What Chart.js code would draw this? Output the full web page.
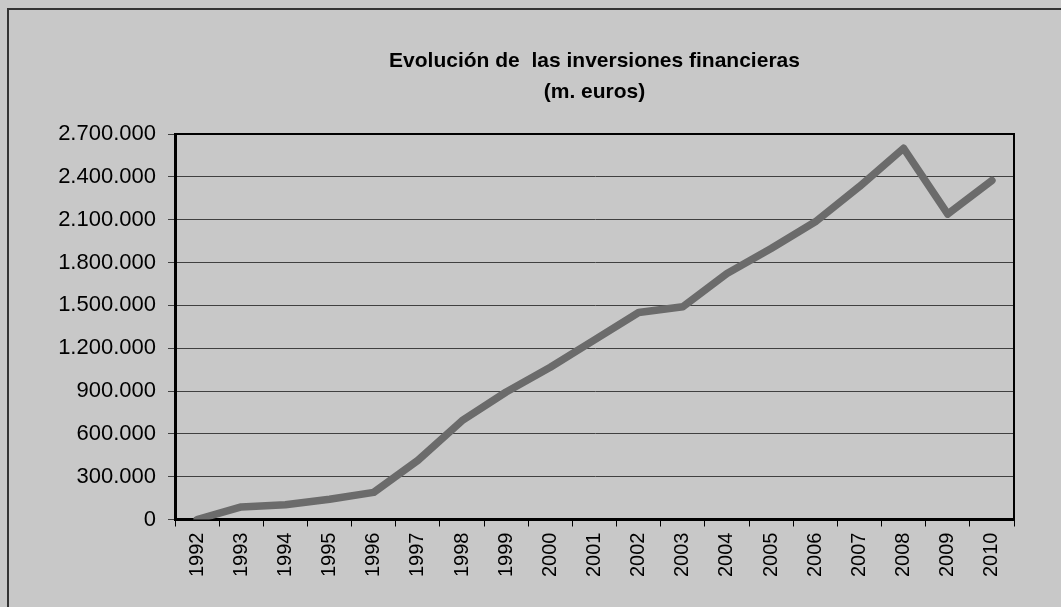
<!DOCTYPE html>
<html lang="es">
<head>
    <meta charset="UTF-8">
    <title>Evolución de las inversiones financieras</title>
    <script src="https://cdn.jsdelivr.net/npm/chart.js"></script>
    <style>
        body { margin: 0; background: #c8c8c8; }
        canvas { display: block; }
    </style>
</head>
<body>
    <canvas id="chart" width="1061" height="607"></canvas>
    <script>
        // datos (miles de euros)
        const years = ['1992', '1993', '1994', '1995', '1996', '1997', '1998', '1999', '2000', '2001',
                       '2002', '2003', '2004', '2005', '2006', '2007', '2008', '2009', '2010'];
        const inversiones = [0, 88000, 104000, 142000, 190000, 414000, 692000, 893000, 1066000, 1258000,
                             1450000, 1490000, 1723000, 1898000, 2085000, 2332000, 2600000, 2139000, 2375000];
        const yMin = 0;
        const yMax = 2700000;
        const yStep = 300000;

        const fmt = v => String(v).replace(/\B(?=(\d{3})+(?!\d))/g, '.');

        // fondo gris y marco exterior
        const frame = {
            id: 'frame',
            beforeDraw(chart) {
                const c = chart.ctx;
                c.save();
                c.fillStyle = '#c8c8c8';
                c.fillRect(0, 0, chart.width, chart.height);
                c.strokeStyle = '#333333';
                c.lineWidth = 2;
                c.strokeRect(8, 9, chart.width + 20, chart.height + 20);
                c.restore();
            },
            afterDatasetsDraw(chart) {
                const a = chart.chartArea;
                const c = chart.ctx;
                c.save();
                c.strokeStyle = '#000';
                c.lineWidth = 2;
                c.beginPath();
                c.moveTo(a.left, a.top);
                c.lineTo(a.right, a.top);
                c.lineTo(a.right, a.bottom);
                c.stroke();
                c.restore();
            }
        };

        new Chart(document.getElementById('chart'), {
            type: 'line',
            data: {
                labels: years,
                datasets: [{
                    data: inversiones,
                    borderColor: '#6b6b6b',
                    borderWidth: 7.5,
                    borderCapStyle: 'round',
                    borderJoinStyle: 'round',
                    pointRadius: 0,
                    tension: 0,
                    fill: false
                }]
            },
            options: {
                responsive: false,
                animation: false,
                layout: { padding: { left: 0, right: 47, top: 0, bottom: 24 } },
                plugins: {
                    legend: { display: false },
                    tooltip: { enabled: false },
                    title: {
                        display: true,
                        fullSize: false,
                        text: ['Evolución de  las inversiones financieras', '(m. euros)'],
                        color: '#000',
                        font: { family: '"Liberation Sans", Arial, sans-serif', size: 21, weight: 'bold', lineHeight: 1.5 },
                        padding: { top: 45, bottom: 26 }
                    }
                },
                scales: {
                    x: {
                        offset: true,
                        grid: { offset: true, drawOnChartArea: false, drawTicks: true, tickLength: 7, color: '#000', lineWidth: 1 },
                        border: { color: '#000', width: 3 },
                        ticks: {
                            color: '#000',
                            minRotation: 90,
                            maxRotation: 90,
                            autoSkip: false,
                            padding: 6,
                            font: { family: '"Liberation Sans", Arial, sans-serif', size: 20 }
                        }
                    },
                    y: {
                        min: yMin,
                        max: yMax,
                        afterFit: scale => { scale.width = 175; },
                        grid: { color: '#404040', lineWidth: 1, tickLength: 7 },
                        border: { color: '#000', width: 3 },
                        ticks: {
                            stepSize: yStep,
                            color: '#000',
                            padding: 12,
                            font: { family: '"Liberation Sans", Arial, sans-serif', size: 22 },
                            callback: v => fmt(v)
                        }
                    }
                }
            },
            plugins: [frame]
        });
    </script>
</body>
</html>
